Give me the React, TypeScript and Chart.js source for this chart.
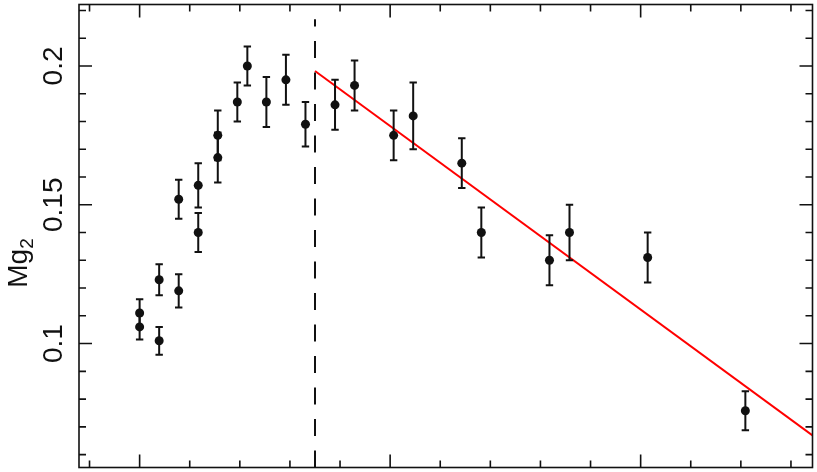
import React, { useEffect, useRef } from "react";
import { Chart, registerables } from "chart.js";

Chart.register(...registerables);

// ---- data ----
const radius = [0, 0, 0.39, 0.39, 0.78, 0.78, 1.17, 1.17, 1.56, 1.56, 1.95, 2.15, 2.53, 2.92, 3.31, 3.9, 4.29, 5.07, 5.46, 6.43, 6.82, 8.18, 8.58, 10.14, 12.09];
const mg2 = [0.111, 0.106, 0.123, 0.101, 0.119, 0.152, 0.157, 0.14, 0.167, 0.175, 0.187, 0.2, 0.187, 0.195, 0.179, 0.186, 0.193, 0.175, 0.182, 0.165, 0.14, 0.13, 0.14, 0.131, 0.0758];
const mg2Err = [0.005, 0.0045, 0.0056, 0.005, 0.006, 0.007, 0.008, 0.007, 0.009, 0.009, 0.007, 0.007, 0.009, 0.009, 0.008, 0.009, 0.009, 0.009, 0.012, 0.009, 0.009, 0.009, 0.01, 0.009, 0.007];

const fitX = [3.5, 13.43];
const fitY = [0.1982, 0.0669];

const breakX = [3.5, 3.5];
const breakY = [0.05536, 0.2168];

const xRange = [-1.21, 13.43];
const yRange = [0.05536, 0.22214];

const xMajorTicks = [0, 5, 10];
const xMinorTicks = [-1, 1, 2, 3, 4, 6, 7, 8, 9, 11, 12, 13];
const yMajorTicks = [0.1, 0.15, 0.2];
const yTickLabels = ["0.1", "0.15", "0.2"];
const yMinorTicks = [0.06, 0.07, 0.08, 0.09, 0.11, 0.12, 0.13, 0.14, 0.16, 0.17, 0.18, 0.19, 0.21, 0.22];

const yTitle = "Mg";
const yTitleSub = "2";

const INK = "#111111";
const FONT = "'Liberation Sans', Arial, sans-serif";

const framePlugin = {
  id: "framePlugin",
  afterDatasetsDraw(chart: any) {
    const ctx = chart.ctx;
    const xs = chart.scales.x;
    const ys = chart.scales.y;
    // error bars
    ctx.save();
    ctx.strokeStyle = INK;
    ctx.lineWidth = 2;
    for (let i = 0; i < radius.length; i++) {
      const px = xs.getPixelForValue(radius[i]);
      const pt = ys.getPixelForValue(mg2[i] + mg2Err[i]);
      const pb = ys.getPixelForValue(mg2[i] - mg2Err[i]);
      ctx.beginPath();
      ctx.moveTo(px, pt);
      ctx.lineTo(px, pb);
      ctx.moveTo(px - 3.7, pt);
      ctx.lineTo(px + 3.7, pt);
      ctx.moveTo(px - 3.7, pb);
      ctx.lineTo(px + 3.7, pb);
      ctx.stroke();
    }
    ctx.restore();
  },
  afterDraw(chart: any) {
    const ctx = chart.ctx;
    const { left, right, top, bottom } = chart.chartArea;
    const xs = chart.scales.x;
    const ys = chart.scales.y;
    ctx.save();
    ctx.strokeStyle = INK;
    ctx.lineWidth = 1.6;
    ctx.strokeRect(left, top, right - left, bottom - top);
    const MAJ = 13;
    const MIN = 7;
    ctx.beginPath();
    const xt = (v: number, len: number) => {
      const p = xs.getPixelForValue(v);
      ctx.moveTo(p, bottom);
      ctx.lineTo(p, bottom - len);
      ctx.moveTo(p, top);
      ctx.lineTo(p, top + len);
    };
    const yt = (v: number, len: number) => {
      const p = ys.getPixelForValue(v);
      ctx.moveTo(left, p);
      ctx.lineTo(left + len, p);
      ctx.moveTo(right, p);
      ctx.lineTo(right - len, p);
    };
    xMajorTicks.forEach((v) => xt(v, MAJ));
    xMinorTicks.forEach((v) => xt(v, MIN));
    yMajorTicks.forEach((v) => yt(v, MAJ));
    yMinorTicks.forEach((v) => yt(v, MIN));
    ctx.stroke();

    // y tick labels (rotated)
    ctx.fillStyle = INK;
    ctx.font = `28px ${FONT}`;
    ctx.textAlign = "center";
    ctx.textBaseline = "alphabetic";
    yMajorTicks.forEach((v, i) => {
      const p = ys.getPixelForValue(v);
      ctx.save();
      ctx.translate(left - 17, p);
      ctx.rotate(-Math.PI / 2);
      ctx.fillText(yTickLabels[i], 0, 0);
      ctx.restore();
    });

    // y title with subscript
    ctx.save();
    ctx.font = `28px ${FONT}`;
    const w1 = ctx.measureText(yTitle).width;
    ctx.font = `19px ${FONT}`;
    const w2 = ctx.measureText(yTitleSub).width;
    const total = w1 + w2;
    const cy = 263;
    ctx.translate(27, cy);
    ctx.rotate(-Math.PI / 2);
    ctx.textAlign = "left";
    ctx.font = `28px ${FONT}`;
    ctx.fillText(yTitle, -total / 2, 0);
    ctx.font = `19px ${FONT}`;
    ctx.fillText(yTitleSub, -total / 2 + w1, 6);
    ctx.restore();

    ctx.restore();
  },
};

export default function App() {
  const ref = useRef<HTMLCanvasElement | null>(null);
  useEffect(() => {
    if (!ref.current) return;
    const chart = new Chart(ref.current, {
      type: "scatter",
      data: {
        datasets: [
          {
            type: "line",
            data: breakX.map((x, i) => ({ x, y: breakY[i] })),
            borderColor: INK,
            borderWidth: 2,
            borderDash: [17, 14.5],
            pointRadius: 0,
            fill: false,
          } as any,
          {
            type: "line",
            data: fitX.map((x, i) => ({ x, y: fitY[i] })),
            borderColor: "#ff0000",
            borderWidth: 2,
            pointRadius: 0,
            fill: false,
          } as any,
          {
            data: radius.map((x, i) => ({ x, y: mg2[i] })),
            backgroundColor: INK,
            borderColor: INK,
            borderWidth: 0,
            pointRadius: 4.5,
          },
        ],
      },
      options: {
        animation: false,
        responsive: false,
        devicePixelRatio: 1,
        layout: { padding: { left: 79, top: 2, right: 2, bottom: 3 } },
        plugins: { legend: { display: false }, tooltip: { enabled: false } },
        scales: {
          x: { type: "linear", display: false, min: xRange[0], max: xRange[1] },
          y: { type: "linear", display: false, min: yRange[0], max: yRange[1] },
        },
      },
      plugins: [framePlugin],
    });
    return () => chart.destroy();
  }, []);
  return (
    <div style={{ position: "absolute", left: 0, top: 0, width: 817, height: 472, background: "#fff" }}>
      <canvas ref={ref} width={817} height={472} style={{ display: "block" }} />
    </div>
  );
}
